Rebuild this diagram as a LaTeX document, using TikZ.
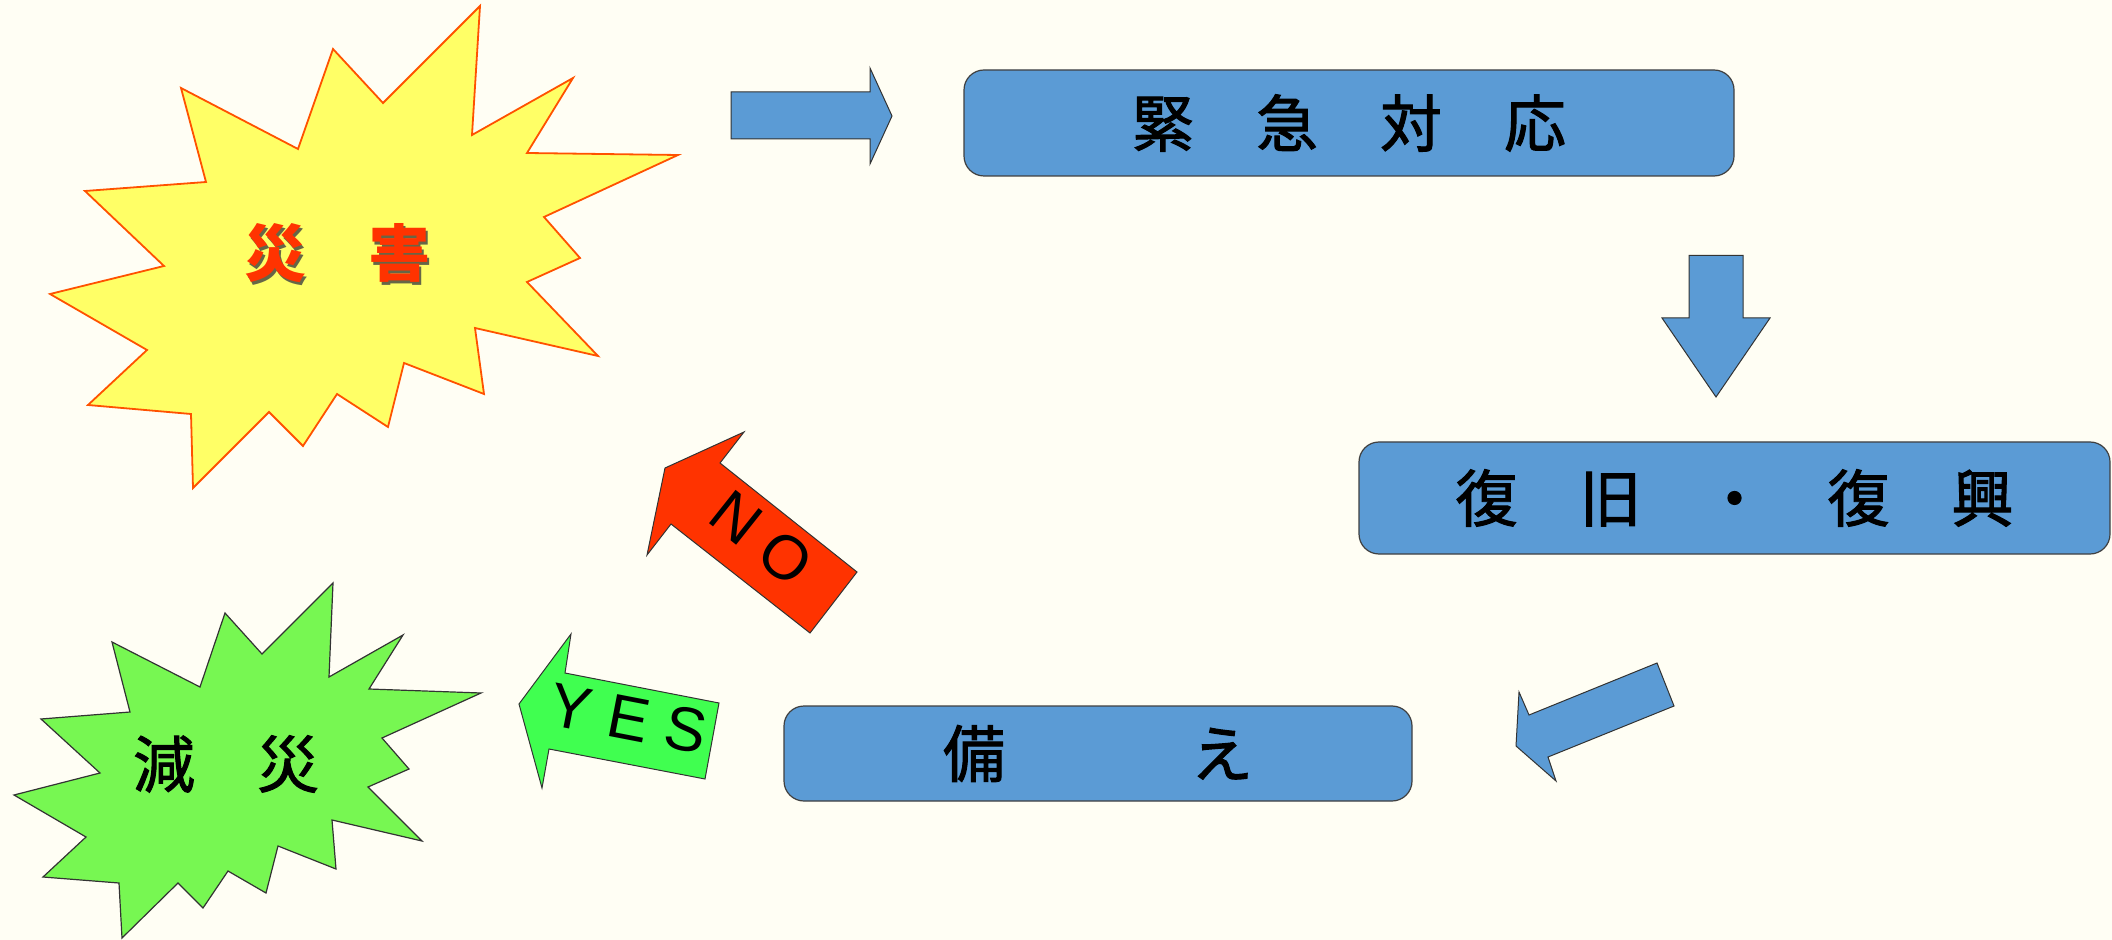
\documentclass[tikz,border=0pt]{standalone}
\usepackage{fontspec}
\setmainfont{Liberation Sans}
\newfontfamily\jpfont[RawFeature={embolden=1.6}]{Noto Sans CJK JP}
\newfontfamily\jpbold{Noto Sans CJK JP}

\definecolor{bgcream}{RGB}{255,254,244}
\definecolor{boxblue}{RGB}{91,155,213}
\definecolor{staryellow}{RGB}{255,255,102}
\definecolor{stargreen}{RGB}{119,247,82}
\definecolor{yesgreen}{RGB}{64,255,80}
\definecolor{nored}{RGB}{255,51,0}

\begin{document}
\begin{tikzpicture}[
    x=0.5pt, y=-0.5pt,
    box/.style={draw=black!75, fill=boxblue, line width=0.6pt, rounded corners=10pt,
                font=\jpfont\fontsize{31}{31}\selectfont},
    blockarrow/.style={draw=black!80, line width=0.5pt, line join=miter},
    answer/.style={text=black, font=\fontsize{31}{31}\selectfont},
    burst/.style={line width=0.9pt, line join=miter},
    startext/.style={font=\jpfont\fontsize{31}{31}\selectfont}
]

% Fundo
\path[use as bounding box, fill=bgcream] (0,0) rectangle (2112,940);

% Etapas
\node[box, minimum width=385pt, minimum height=53pt] (kinkyu) at (1349,123) {緊　急　対　応};
\node[box, minimum width=375.5pt, minimum height=56pt] (fukkyu) at (1734.5,498) {復　旧　・　復　興};
\node[box, minimum width=314pt, minimum height=47.5pt] (sonae) at (1098,753.5) {備　　　え};

% Desastre
\draw[burst, draw=nored!85!yellow, fill=staryellow]
    (480,6) -- (383,103) -- (333,49) -- (298,149) -- (181,88) -- (206,182)
    -- (85,191) -- (164,266) -- (50,294) -- (147,350) -- (88,405) -- (191,414)
    -- (193,488) -- (269,412) -- (303,446) -- (337,394) -- (388,427) -- (404,363)
    -- (484,394) -- (475,328) -- (598,356) -- (527,282) -- (580,258) -- (544,217)
    -- (678,155) -- (527,153) -- (573,78) -- (472,135) -- cycle;
\node[startext, font=\jpbold\bfseries\fontsize{31}{31}\selectfont, text=black!75, opacity=0.8]
    (saigaishade) at (339.5,256) {災　害};
\node[startext, font=\jpbold\bfseries\fontsize{31}{31}\selectfont, text=nored]
    (saigai) at (337,253) {災　害};

% Reducao
\draw[burst, draw=black!80, line width=0.6pt, fill=stargreen]
    (333,583) -- (262,654) -- (225,613) -- (200,687) -- (112,642) -- (130,712)
    -- (41,719) -- (100,773) -- (14,795) -- (86,837) -- (43,877) -- (119,883)
    -- (122,938) -- (178,883) -- (203,908) -- (228,871) -- (266,893) -- (278,846)
    -- (336,869) -- (332,820) -- (422,841) -- (368,787) -- (409,769) -- (382,738)
    -- (481,693) -- (369,689) -- (403,635) -- (329,677) -- cycle;
\node[startext] (gensai) at (226,764) {減　災};

% Setas do ciclo
\draw[blockarrow, fill=boxblue] (731,92) -- (870,92) -- (870,68) -- (892,116)
    -- (870,164) -- (870,139) -- (731,139) -- cycle;
\draw[blockarrow, fill=boxblue] (1689,255.5) -- (1743,255.5) -- (1743,318) -- (1770,318)
    -- (1716,397) -- (1662,318) -- (1689,318) -- cycle;
\draw[blockarrow, fill=boxblue] (1657,663) -- (1529,715) -- (1519,692) -- (1516,746)
    -- (1556,781) -- (1548,757) -- (1674,706) -- cycle;

% Resposta
\draw[blockarrow, fill=nored] (665,468) -- (744,432) -- (720,463) -- (857,572)
    -- (810,633) -- (671,524) -- (647,555) -- cycle;
\node[answer, rotate=-38.5] (ansNo) at (761.5,538.5) {N O};
\draw[blockarrow, fill=yesgreen] (519,704) -- (571,634) -- (565,673) -- (719,703)
    -- (705,779) -- (549,749) -- (542,788) -- cycle;
\node[answer, rotate=-11] (ansYes) at (628.5,718.5) {Y E S};

\end{tikzpicture}
\end{document}
